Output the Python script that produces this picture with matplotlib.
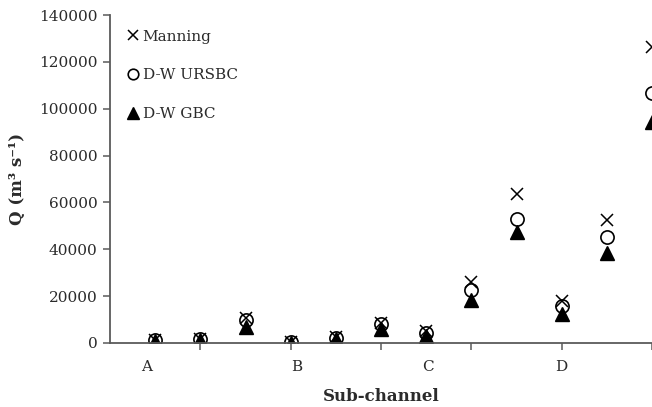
import matplotlib
matplotlib.use("Agg")
import matplotlib.pyplot as plt
import matplotlib.transforms as mtransforms
import numpy as np

# Discharge per sub-channel section (m3/s)
section_index = list(range(12))
manning = [1200, 1800, 10500, 500, 2400, 8700, 5000, 26000, 63500, 17800, 52500, 126500]
dw_ursbc = [1100, 1600, 9800, 400, 2100, 8200, 4400, 22500, 52800, 16000, 45400, 106700]
dw_gbc = [700, 1200, 7000, 200, 1600, 6000, 3200, 18500, 47200, 12200, 38400, 94500]

categories = ["A", "B", "C", "D"]
category_pos = [-0.18, 3.14, 6.04, 9.0]
yticks = [0, 20000, 40000, 60000, 80000, 100000, 120000, 140000]

plt.rcParams["font.family"] = ["DejaVu Serif"]
axis_grey = "#5a5a5a"
text_col = "#2b2b2b"

fig = plt.figure(figsize=(6.52, 4.07), dpi=100)
ax = fig.add_axes([110 / 652, 64 / 407, 542 / 652, 328 / 407])

ax.plot(section_index, manning, linestyle="none", marker="x", markersize=9,
        markeredgewidth=1.1, color="black", label="Manning")
ax.plot(section_index, dw_ursbc, linestyle="none", marker="o", markersize=9.5,
        markerfacecolor="none", markeredgewidth=1.2, markeredgecolor="black",
        label="D-W URSBC")
ax.plot(section_index, dw_gbc, linestyle="none", marker="^", markersize=10,
        color="black", label="D-W GBC")

ax.set_xlim(-1, 11)
ax.set_ylim(0, 140000)
ax.set_yticks(yticks)
ax.set_yticklabels([str(v) for v in yticks], fontsize=11, color=text_col)
ax.set_xticks([1, 3, 5, 7, 9, 11])
ax.set_xticklabels([])

for side in ("top", "right"):
    ax.spines[side].set_visible(False)
for side in ("left", "bottom"):
    ax.spines[side].set_color(axis_grey)
    ax.spines[side].set_linewidth(1.3)
ax.tick_params(axis="both", direction="out", length=5, width=1.1, color=axis_grey)
ax.tick_params(axis="y", pad=4)

trans = mtransforms.blended_transform_factory(ax.transData, ax.transAxes)
for lab, pos in zip(categories, category_pos):
    ax.text(pos, -0.072, lab, transform=trans, ha="center", va="center",
            fontsize=11, color=text_col)

ax.set_xlabel("Sub-channel", fontsize=12, fontweight="bold", color=text_col,
              labelpad=24)
ax.set_ylabel("Q (m³ s⁻¹)", fontsize=12, fontweight="bold", color=text_col,
              labelpad=9)

leg = ax.legend(loc="upper left", bbox_to_anchor=(0.004, 0.997), frameon=False,
                fontsize=11, labelspacing=1.62, handlelength=0.9,
                handletextpad=0.2, borderaxespad=0.5, markerscale=0.8)
for t in leg.get_texts():
    t.set_color(text_col)

fig.savefig("out.png", dpi=100)
